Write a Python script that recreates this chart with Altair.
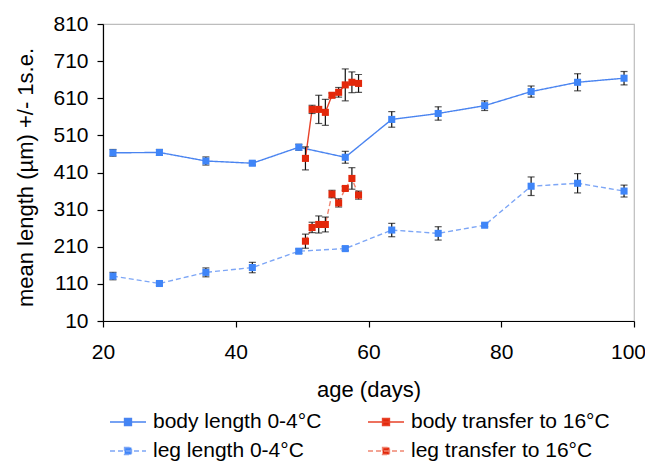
import altair as alt
import pandas as pd

# ---- data ----
ages_cold = [21.5, 28.5, 35.5, 42.5, 49.5, 56.5, 63.5, 70.5, 77.5, 84.5, 91.5, 98.5]
body_cold = [463, 464, 441, 435, 478, 451, 553, 569, 590, 628, 653, 664]
body_cold_se = [9, 8, 11, 5, 8, 16, 21, 18, 13, 15, 23, 18]
leg_cold = [131, 111, 141, 154, 198, 205, 255, 246, 268, 373, 381, 360]
leg_cold_se = [10, 5, 12, 14, 6, 5, 18, 18, 4, 25, 26, 16]

ages_warm = [50.5, 51.5, 52.5, 53.5, 54.5, 55.5, 56.5, 57.5, 58.5]
body_warm = [448, 580, 580, 572, 618, 626, 646, 653, 650]
body_warm_se = [31, 11, 38, 35, 6, 13, 43, 28, 24]
leg_warm = [225, 262, 270, 270, 352, 328, 367, 394, 349]
leg_warm_se = [19, 14, 23, 20, 10, 11, 5, 29, 11]

series_names = ["body length 0-4°C", "body transfer to 16°C",
                "leg length 0-4°C", "leg transfer to 16°C"]
line_colors = ["#4A84F0", "#E8432A", "#7DA6F6", "#F08672"]
marker_colors = ["#3F85F8", "#E3280B", "#3F85F8", "#E3280B"]
dashes = [[1, 0], [1, 0], [5, 3], [5, 3]]

x_ticks = [20, 40, 60, 80, 100]
y_ticks = [10, 110, 210, 310, 410, 510, 610, 710, 810]

rows = []
for name, ages, vals, ses in [
    (series_names[0], ages_cold, body_cold, body_cold_se),
    (series_names[1], ages_warm, body_warm, body_warm_se),
    (series_names[2], ages_cold, leg_cold, leg_cold_se),
    (series_names[3], ages_warm, leg_warm, leg_warm_se),
]:
    for a, v, s in zip(ages, vals, ses):
        rows.append({"series": name, "age": a, "value": v, "lo": v - s, "hi": v + s})
df = pd.DataFrame(rows)

FONT = "Liberation Sans"

x_enc = alt.X("age:Q",
              scale=alt.Scale(domain=[20, 100], nice=False, zero=False),
              axis=alt.Axis(values=x_ticks, tickCount=len(x_ticks), title="age (days)",
                            titleY=68, titleBaseline="middle", labelPadding=14,
                            labelFlush=False, labelOverlap=False,
                            labelOffset={"condition": {"test": "datum.value >= 100", "value": -6},
                                         "value": 0}))
y_enc = alt.Y("value:Q",
              scale=alt.Scale(domain=[10, 810], nice=False, zero=False),
              axis=alt.Axis(values=y_ticks, tickCount=len(y_ticks),
                            title="mean length (µm) +/- 1s.e.",
                            titleX=-78, titleY=153, titleBaseline="middle",
                            titleAlign="center", labelPadding=9,
                            labelFlush=False, labelOverlap=False))

sym_path = "M-1,0H1M-0.19,-0.19H0.19V0.19H-0.19Z"
leg = alt.Legend(orient="none", legendX=6, legendY=379, columns=2, title=None,
                 direction="horizontal",
                 symbolType=sym_path, symbolSize=1296, symbolStrokeWidth=1.5,
                 labelFont=FONT, labelFontSize=21, labelColor="black",
                 labelOffset=6, columnPadding=43, rowPadding=-4, padding=0,
                 labelLimit=400)

stroke_scale = alt.Scale(domain=series_names, range=line_colors)
fill_scale = alt.Scale(domain=series_names, range=marker_colors)
dash_scale = alt.Scale(domain=series_names, range=dashes)

base = alt.Chart(df)

lines = base.mark_line(strokeWidth=1.4).encode(
    x=x_enc, y=y_enc,
    stroke=alt.Stroke("series:N", scale=stroke_scale, legend=leg),
    strokeDash=alt.StrokeDash("series:N", scale=dash_scale, legend=leg),
    order="age:Q",
)

err = base.mark_rule(color="#111111", strokeWidth=1.2).encode(
    x="age:Q", y="lo:Q", y2="hi:Q")
cap_lo = base.mark_tick(orient="horizontal", color="#111111", size=7, thickness=1.2).encode(
    x="age:Q", y="lo:Q")
cap_hi = base.mark_tick(orient="horizontal", color="#111111", size=7, thickness=1.2).encode(
    x="age:Q", y="hi:Q")

points = base.mark_point(shape="square", filled=True, size=50, opacity=1).encode(
    x="age:Q", y="value:Q",
    fill=alt.Fill("series:N", scale=fill_scale, legend=leg),
)

chart = alt.layer(lines, err, cap_lo, cap_hi, points).properties(
    width=531, height=297,
    autosize=alt.AutoSizeParams(type="none"),
    padding={"left": 95, "top": 16, "right": 11, "bottom": 146},
    background="white",
).configure_view(
    stroke="#bdbdbd", strokeWidth=1.2
).configure_axis(
    grid=False, domainColor="black", domainWidth=1.2, tickColor="black",
    tickSize=6, tickWidth=1.2,
    labelFont=FONT, labelFontSize=21, labelColor="black",
    titleFont=FONT, titleFontSize=22, titleFontWeight="normal", titleColor="black",
)

chart.save("out.html", embed_options={"renderer": "svg", "actions": False})
